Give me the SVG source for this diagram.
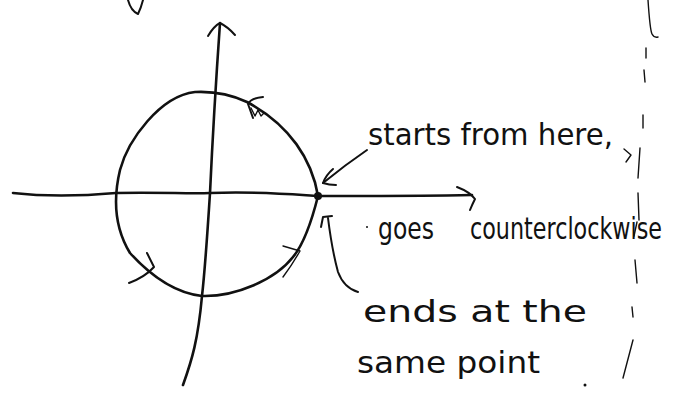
<svg xmlns="http://www.w3.org/2000/svg" width="678" height="402" viewBox="0 0 678 402">
<style>
.ink{fill:none;stroke:#111;stroke-linecap:round;stroke-linejoin:round}
.thick{stroke-width:2.6}
.med{stroke-width:2}
.thin{stroke-width:1.4}
.hand{font-family:"DejaVu Sans","Liberation Sans",sans-serif;font-size:30px;fill:#111}
</style>
<rect width="678" height="402" fill="#fff"/>
<g id="top-mark"><path class="ink med" d="M128,0 Q131,11 138,14 Q141,8 143,0"/></g>
<g id="axes">
  <path id="y-axis" class="ink thick" d="M220,23 C216,80 212,150 210,193 C207,240 205,270 202,296 C198,340 192,360 183,385"/>
  <path class="ink med" d="M208,36 Q214,26 220,23 Q228,27 235,35"/>
  <path id="x-axis" class="ink thick" d="M13,193 C40,196 70,197 116,193 C160,192 190,194 210,193 C260,191 300,195 318,196 C380,196 430,196 472,195"/>
  <path class="ink med" d="M457,187 Q470,192 475,199 Q472,205 470,210"/>
</g>
<g id="circle">
  <path class="ink thick" d="M318,196 C312,160 290,125 247,102 C230,94 215,91 195,92 C160,96 128,140 120,170 C114,195 113,225 130,253 C150,275 175,293 202,296 C235,297 275,280 293,257 C303,245 312,220 318,196 Z"/>
  <circle cx="318" cy="196" r="4" fill="#111"/>
  <path class="ink med" d="M263,97 Q251,98 248,104 L253,118"/>
  <path class="ink thin" d="M251,108 L255,116 L258,110 L261,116 L264,113"/>
  <path class="ink med" d="M147,253 L154,267 Q145,277 129,283"/>
  <path class="ink thin" d="M283,246 L300,251 Q292,265 283,277"/>
</g>
<g id="connectors">
  <path class="ink med" d="M367,150 Q345,165 323,183"/>
  <path class="ink med" d="M333,169 Q326,175 323,183 Q329,185 336,185"/>
  <path class="ink med" d="M321,227 L323,217 L332,216"/>
  <path class="ink med" d="M328,218 Q332,250 338,272 Q344,288 358,292"/>
</g>
<g id="label-start"><text class="hand" x="368" y="145" textLength="245" lengthAdjust="spacingAndGlyphs">starts from here,</text></g>
<g id="label-goes">
  <circle cx="367" cy="227" r="1" fill="#111"/>
  <text class="hand" x="378" y="239" font-size="32" textLength="56" lengthAdjust="spacingAndGlyphs">goes</text>
  <text class="hand" x="470" y="239" font-size="32" textLength="192" lengthAdjust="spacingAndGlyphs">counterclockwise</text>
</g>
<g id="label-ends">
  <text class="hand" x="363" y="322" textLength="224" lengthAdjust="spacingAndGlyphs">ends at the</text>
  <text class="hand" x="357" y="373" textLength="183" lengthAdjust="spacingAndGlyphs">same point</text>
  <circle cx="585" cy="385" r="1.5" fill="#111"/>
</g>
<g id="margin-line">
  <path class="ink thin" d="M648,0 Q650,30 652,34 Q654,38 658,37"/>
  <path class="ink thin" d="M646,48 L646,58 M644,70 L645,82 M643,115 L643,128 M640,148 L638,178 M638,193 L639,220 M637,222 L634,236 M635,260 L637,283 M632,307 L633,317 M633,340 L623,378"/>
  <path class="ink thin" d="M624,149 L631,155 L626,162"/>
</g>
</svg>
